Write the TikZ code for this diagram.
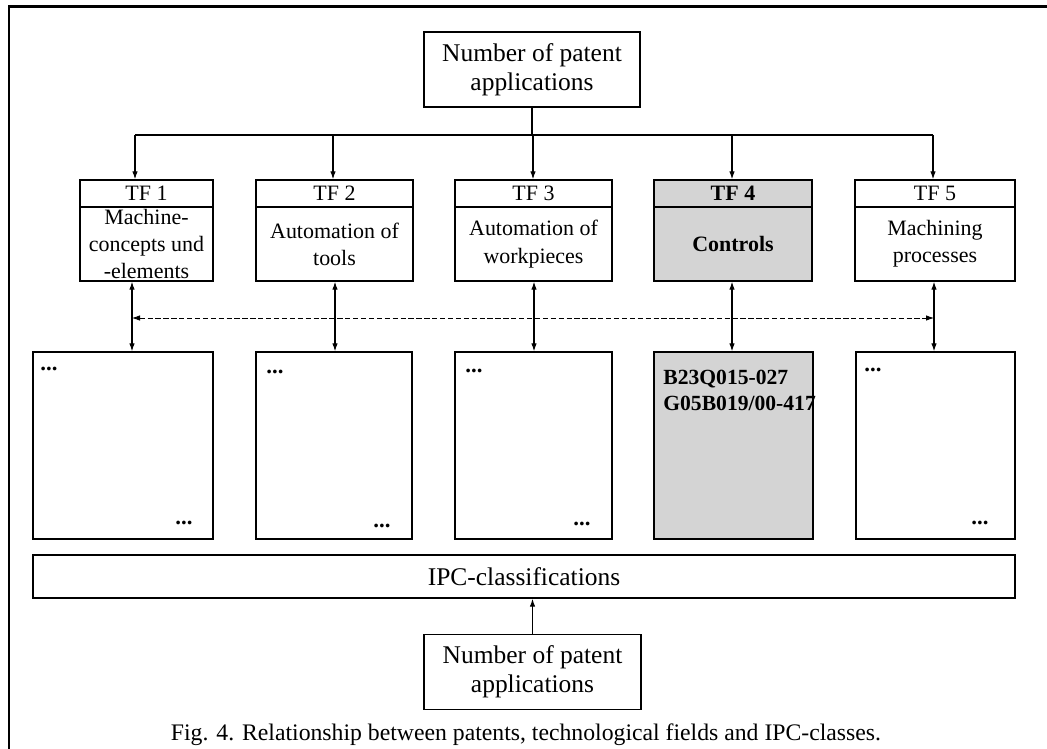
\documentclass[tikz,border=0pt]{standalone}
\usepackage{fontspec}
\setmainfont{Liberation Serif}
\usetikzlibrary{arrows.meta, positioning}

\tikzset{
    box/.style={draw,line width=0.8pt,inner sep=0pt,align=center,
        font=\fontsize{12.5}{15.5}\selectfont},
    tfhead/.style={box,minimum height=0.54cm},
    tfbody/.style={box,minimum height=1.48cm},
    codebox/.style={box,minimum height=3.74cm},
    countbox/.style={box,minimum width=4.32cm,minimum height=1.5cm,
        font=\fontsize{14.5}{16.5}\selectfont},
    marked/.style={fill=black!17},
    arr/.style={-{Latex[length=1.6mm,width=1.1mm]},line width=0.6pt},
    dblarr/.style={{Latex[length=1.6mm,width=1.1mm]}-{Latex[length=1.6mm,width=1.1mm]},line width=0.6pt},
    dots/.style={inner sep=0pt,font=\fontsize{13}{14}\selectfont\bfseries},
}

\begin{document}
\begin{tikzpicture}
\begin{scope}[x=0.02cm,y=-0.02cm]
    \useasboundingbox (0,0) rectangle (1047,749);
    \draw[line width=1.7pt] (9,749) -- (9,7) -- (1047,7);

    %
    \node[countbox] (top) at (532,69.5) {Number of patent\\applications};

    %
    \node[tfhead,minimum width=2.66cm] (tfh1) at (146.5,193.5) {TF 1};
    \node[tfbody,minimum width=2.66cm] (tf1) at (146.5,244) {Machine-\\concepts und\\-elements};
    \node[tfhead,minimum width=3.14cm] (tfh2) at (334.5,193.5) {TF 2};
    \node[tfbody,minimum width=3.14cm] (tf2) at (334.5,244) {Automation of\\tools};
    \node[tfhead,minimum width=3.14cm] (tfh3) at (533.5,193.5) {TF 3};
    \node[tfbody,minimum width=3.14cm] (tf3) at (533.5,244) {Automation of\\workpieces};
    \node[tfhead,marked,minimum width=3.16cm] (tfh4) at (733,193.5) {\textbf{TF 4}};
    \node[tfbody,marked,minimum width=3.16cm] (tf4) at (733,244) {\textbf{Controls}};
    \node[tfhead,minimum width=3.2cm] (tfh5) at (935,193.5) {TF 5};
    \node[tfbody,minimum width=3.2cm] (tf5) at (935,244) {Machining\\processes};

    %
    \node[codebox,minimum width=3.6cm] (low1) at (123,445.5) {};
    \node[codebox,minimum width=3.12cm] (low2) at (334,445.5) {};
    \node[codebox,minimum width=3.14cm] (low3) at (533.5,445.5) {};
    \node[codebox,marked,minimum width=3.18cm] (low4) at (733.5,445.5) {};
    \node[codebox,minimum width=3.18cm] (low5) at (935.5,445.5) {};

    \node[dots,anchor=west] (d1a) at (40,369) {...};
    \node[dots,anchor=west] (d1b) at (175,523) {...};
    \node[dots,anchor=west] (d2a) at (266,372) {...};
    \node[dots,anchor=west] (d2b) at (373,526) {...};
    \node[dots,anchor=west] (d3a) at (465,371) {...};
    \node[dots,anchor=west] (d3b) at (573,524) {...};
    \node[dots,anchor=west] (d5a) at (864,370) {...};
    \node[dots,anchor=west] (d5b) at (971,523) {...};
    \node[inner sep=0pt,anchor=north west,align=left,
        font=\fontsize{12.3}{14.4}\selectfont\bfseries] (codes) at (663,370)
        {B23Q015-027\\G05B019/00-417};

    %
    \node[box,minimum width=19.64cm,minimum height=0.86cm,
        font=\fontsize{14.5}{16}\selectfont] (ipc) at (524,576.5) {IPC-classifications};
    \node[countbox,minimum width=4.34cm] (bot) at (532.5,672) {Number of patent\\applications};

    %
    \coordinate (bus) at (532,135);
    \draw[line width=0.6pt] (top.south) -- (bus);
    \coordinate (d1) at (135,135);
    \coordinate (d5) at (933,135);
    \draw[line width=0.6pt] (d1) -- (d5);
    \foreach \i/\x in {1/135,2/333,3/533,4/732,5/933}
        \draw[arr] (\x,135) coordinate (b\i) -- (b\i |- tfh\i.north);

    %
    \foreach \i/\x in {1/132,2/335,3/534,4/732,5/934}{
        \coordinate (v\i) at (\x,318);
        \draw[dblarr] (v\i |- tf\i.south) -- (v\i |- low\i.north);
    }
    \draw[dblarr,dashed,dash pattern=on 3pt off 1.5pt,line width=0.45pt] (v1) -- (v5);

    %
    \draw[arr] (bot.north) -- (bot.north |- ipc.south);

    \node[font=\fontsize{13.5}{15}\selectfont] (caption) at (526,735)
        {Fig. 4. Relationship between patents, technological fields and IPC-classes.};
\end{scope}
\end{tikzpicture}
\end{document}
